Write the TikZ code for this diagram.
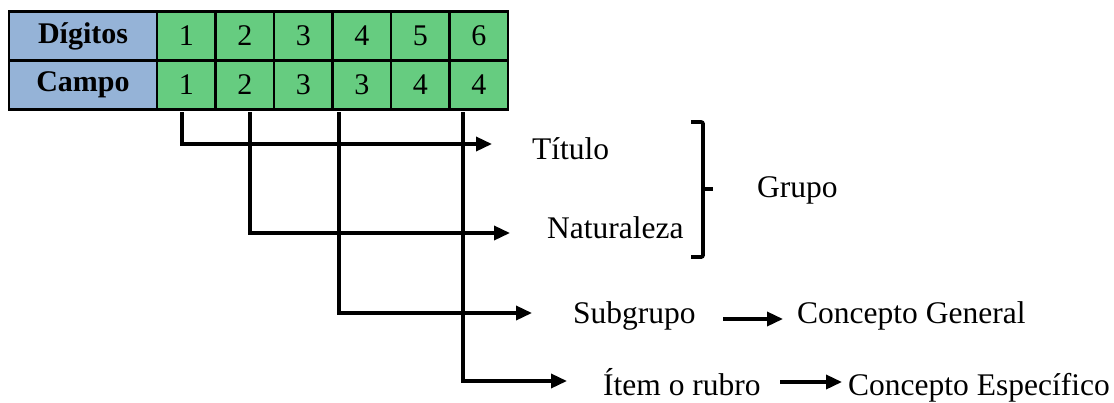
\documentclass[tikz,border=0pt]{standalone}
\usepackage{fontspec}
\setmainfont{Liberation Serif}
\usetikzlibrary{arrows.meta}
\definecolor{cellblue}{RGB}{149,179,215}
\definecolor{cellgreen}{RGB}{102,204,128}
\begin{document}
\begin{tikzpicture}[x=1pt,y=-1pt,
  cell/.style={draw=black,line width=2.5pt,minimum height=49pt,inner sep=0pt,anchor=center,font=\fontsize{30}{36}\selectfont},
  head/.style={cell,fill=cellblue,minimum width=148pt,font=\fontsize{30}{36}\selectfont\bfseries},
  num/.style={cell,fill=cellgreen,minimum width=58.5pt},
  link/.style={line width=3.5pt,-{Triangle[length=16pt,width=14pt]}},
  lbl/.style={font=\fontsize{31.5}{36}\selectfont,anchor=base west,inner sep=0pt}]
\useasboundingbox (0,0) rectangle (1114,402);
% table
\node[head] (dig) at (83,36) {Dígitos};
\node[head] (cam) at (83,85) {Campo};
\foreach \i/\x/\d/\c in {1/186.25/1/1, 2/244.75/2/2, 3/303.25/3/3, 4/361.75/4/3, 5/420.25/5/4, 6/478.75/6/4}{
  \node[num] (d\i) at (\x,36) {\d};
  \node[num] (c\i) at (\x,85) {\c};
}
% labels
\node[lbl] (tit) at (532,159) {Título};
\node[lbl] (nat) at (547,238) {Naturaleza};
\node[lbl] (gru) at (757,197) {Grupo};
\node[lbl] (sub) at (573,323) {Subgrupo};
\node[lbl] (cg) at (797,323) {Concepto General};
\node[lbl] (ir) at (603,395) {Ítem o rubro};
\node[lbl] (ce) at (848,395) {Concepto Específico};
% connector coordinates
\coordinate (v1) at (182,112);
\coordinate (v2) at (250,112);
\coordinate (v3) at (339,112);
\coordinate (v4) at (463,112);
\coordinate (t1) at (492,144);
\coordinate (t2) at (510,233);
\coordinate (t3) at (532,313);
\coordinate (t4) at (567,381);
\draw[link] (v1) |- (t1);
\draw[link] (v2) |- (t2);
\draw[link] (v3) |- (t3);
\draw[link] (v4) |- (t4);
\coordinate (g1) at (723,319);
\coordinate (g2) at (783,319);
\coordinate (e1) at (780,382);
\coordinate (e2) at (842,382);
\draw[link] (g1) -- (g2);
\draw[link] (e1) -- (e2);
% brace
\draw[line width=3.8pt,rounded corners=2pt] (691,122) -- (703,122) -- (703,257) -- (691,257);
\draw[line width=3.8pt] (703,189) -- (713,189);
\end{tikzpicture}
\end{document}
